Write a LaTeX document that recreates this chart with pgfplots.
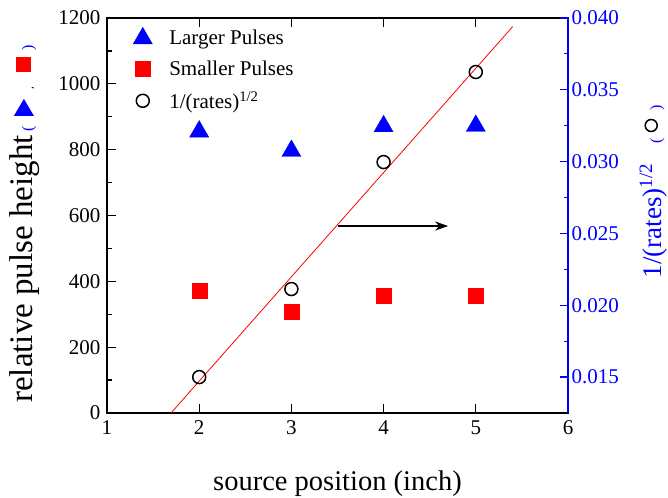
\documentclass[border=0pt]{standalone}
\usepackage{pgfplots}
\pgfplotsset{compat=1.18}
\usetikzlibrary{arrows.meta}
\usepackage{fontspec}
\setmainfont{Liberation Serif}
\newfontfamily\timesfam{Liberation Serif}

\newcommand{\tickfont}{\timesfam\fontsize{21}{24}\selectfont}
\newcommand{\labfont}{\timesfam\fontsize{33}{36}\selectfont}
\newcommand{\rlabfont}{\timesfam\fontsize{27}{30}\selectfont}
\newcommand{\xlabfont}{\timesfam\fontsize{28.5}{32}\selectfont}
\newcommand{\parfont}{\fontsize{16}{16}\selectfont}

\begin{document}
\begin{tikzpicture}
\begin{axis}[
    name=ax,
    scale only axis,
    width=461pt, height=395pt,
    xmin=1, xmax=6,
    ymin=0, ymax=1200,
    xtick={1,2,3,4,5,6},
    xticklabels={1,2,3,4,5,6},
    ytick={0,200,400,600,800,1000,1200},
    yticklabels={0,200,400,600,800,1000,1200},
    minor y tick num=1,
    ytick pos=left,
    tick align=inside,
    major tick length=9pt,
    minor tick length=5pt,
    axis line style={line width=1.3pt},
    tick style={line width=1.2pt, black},
    ticklabel style={font=\tickfont},
    xticklabel style={yshift=-4pt},
    yticklabel style={xshift=-3pt},
    xlabel={source position (inch)},
    xlabel style={font=\xlabfont, at={(axis description cs:0.5,-0.18)}, anchor=center},
    ylabel={relative pulse height\hspace{4pt}{\color{blue}\parfont(}\hspace{10pt}\tikz[baseline=-0.27em]\fill[blue] (0,-10pt)--(0,10pt)--(17pt,0)--cycle;\hspace{9pt}{\fontsize{11}{11}\selectfont,}\hspace{15pt}\tikz[baseline=-0.27em]\fill[red] (0,-7.5pt) rectangle (15pt,7.5pt);\hspace{7pt}{\color{blue}\parfont)}},
    ylabel style={font=\labfont, at={(axis description cs:-0.178,0.479)}, anchor=center},
    legend style={draw=none, fill=none, font=\tickfont, at={(axis description cs:0.05,0.982)}, anchor=north west,
        row sep=10.5pt, /tikz/every odd column/.append style={column sep=15pt}},
    legend cell align=left,
]
% larger pulses
\addplot[only marks, mark=triangle*, mark size=11pt, color=blue] coordinates {
    (2,855) (3,796) (4,871) (5,872)
};
\addlegendentry{Larger Pulses}
% smaller pulses
\addplot[only marks, mark=square*, mark size=7.5pt, color=red] coordinates {
    (2,371) (3,307) (4,355) (5,355)
};
\addlegendentry{Smaller Pulses}
\addlegendimage{only marks, mark=o, mark size=6.5pt, black, line width=1.5pt}
\addlegendentry{1/(rates)\textsuperscript{1/2}}
\draw[-{Stealth[length=13pt,width=9pt]}, line width=2pt] (axis cs:3.5,568) -- (axis cs:4.7,568);
\end{axis}

\begin{axis}[
    scale only axis,
    width=461pt, height=395pt,
    xmin=1, xmax=6,
    ymin=0.0125, ymax=0.040,
    axis x line=none,
    axis y line*=right,
    ytick={0.015,0.020,0.025,0.030,0.035,0.040},
    yticklabels={0.015,0.020,0.025,0.030,0.035,0.040},
    scaled y ticks=false,
    minor y tick num=1,
    tick align=inside,
    major tick length=8pt,
    minor tick length=4pt,
    y axis line style={blue, line width=1.3pt, -},
    ytick style={blue, line width=1.2pt},
    yticklabel style={font=\tickfont, color=blue},
    ylabel={1/(rates)\textsuperscript{1/2}\hspace{20pt}{\parfont(}\hspace{6pt}\tikz[baseline=-0.37em]\draw[black, line width=1.5pt] (0,0) circle (6pt);\hspace{8pt}{\parfont)}},
    ylabel style={font=\rlabfont, color=blue, at={(axis description cs:1.185,0.56)}, anchor=center},
]
\addplot[only marks, mark=o, mark size=6.5pt, black, line width=1.5pt] coordinates {
    (2,0.0150) (3,0.02113) (4,0.02997) (5,0.03624)
};
% linear fit
\addplot[red, line width=0.8pt, no marks] coordinates {
    (1.694,0.0125) (5.40,0.0394)
};
\end{axis}
\pgfresetboundingbox
\path[use as bounding box] ([shift={(-107pt,-84pt)}]ax.south west) rectangle ([shift={(100pt,18pt)}]ax.north east);
\end{tikzpicture}
\end{document}
